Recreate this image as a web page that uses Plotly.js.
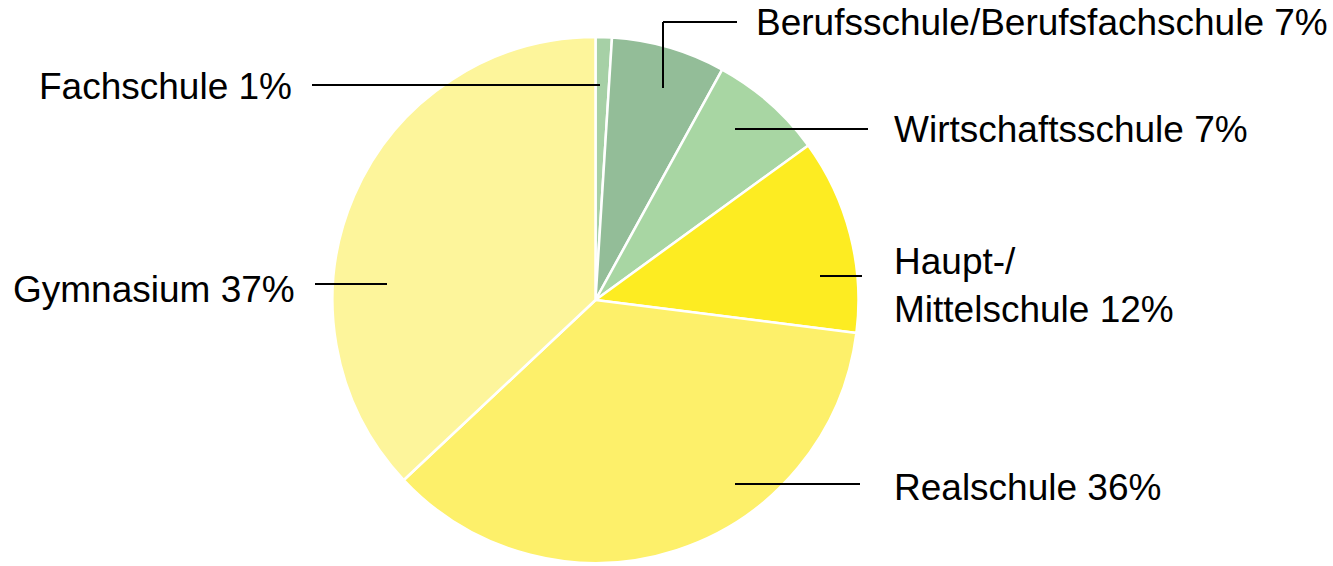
<!DOCTYPE html>
<html>
<head>
<meta charset="utf-8">
<script src="https://cdn.plot.ly/plotly-3.0.1.min.js"></script>
<style>html,body{margin:0;padding:0;background:#fff;}#chart{width:1333px;height:566px;}</style>
</head>
<body>
<div id="chart"></div>
<script>
// Data
const categories = ["Fachschule", "Berufsschule/Berufsfachschule", "Wirtschaftsschule", "Haupt-/Mittelschule", "Realschule", "Gymnasium"];
const shares = [1, 7, 7, 12, 36, 37];
const labelTexts = ["Fachschule 1%", "Berufsschule/Berufsfachschule 7%", "Wirtschaftsschule 7%", "Haupt-/<br>Mittelschule 12%", "Realschule 36%", "Gymnasium 37%"];
const sliceColors = ["#a6d0a6", "#93bd98", "#a8d6a3", "#fdec22", "#fdf06a", "#fdf59b"];

// Label layout (pixel positions of text and leader lines)
const W = 1333, H = 566;
const labelPos = [
  {x: 37,  y: 87,  anchor: "left", line: [[312, 85], [600, 85]]},
  {x: 754, y: 23,  anchor: "left", line: [[663, 88], [663, 22], [737, 22]]},
  {x: 892, y: 130, anchor: "left", line: [[735, 129], [868, 129]]},
  {x: 892, y: 285, anchor: "left", line: [[820, 276], [862, 276]]},
  {x: 892, y: 487, anchor: "left", line: [[735, 484], [860, 484]]},
  {x: 11,  y: 289, anchor: "left", line: [[315, 284], [387, 284]]}
];

const px = v => v / W;
const py = v => 1 - v / H;

const annotations = labelTexts.map((t, i) => ({
  text: t, xref: "paper", yref: "paper",
  x: px(labelPos[i].x), y: py(labelPos[i].y),
  xanchor: labelPos[i].anchor, yanchor: "middle", align: "left",
  showarrow: false,
  font: {family: "Liberation Sans, Arial, sans-serif", size: 37, color: "#000"}
}));

const shapes = [];
labelPos.forEach(p => {
  for (let k = 0; k < p.line.length - 1; k++) {
    shapes.push({type: "line", xref: "paper", yref: "paper",
      x0: px(p.line[k][0]), y0: py(p.line[k][1]),
      x1: px(p.line[k+1][0]), y1: py(p.line[k+1][1]),
      line: {color: "#000", width: 2}});
  }
});

const trace = {
  type: "pie",
  labels: categories,
  values: shares,
  sort: false,
  direction: "clockwise",
  rotation: 0,
  textinfo: "none",
  hoverinfo: "label+percent",
  marker: {colors: sliceColors, line: {color: "#ffffff", width: 2.5}},
  domain: {x: [332 / W, 859 / W], y: [1 - 563 / H, 1 - 37 / H]},
  showlegend: false
};

const layout = {
  width: W, height: H,
  margin: {l: 0, r: 0, t: 0, b: 0},
  paper_bgcolor: "#fff",
  showlegend: false,
  annotations: annotations,
  shapes: shapes
};

Plotly.newPlot("chart", [trace], layout, {displayModeBar: false, staticPlot: true});
</script>
</body>
</html>
